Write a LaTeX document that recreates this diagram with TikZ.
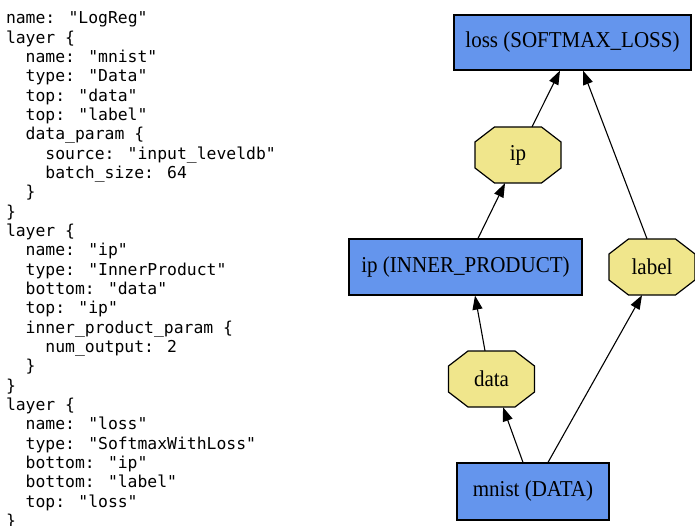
\documentclass[tikz,border=0pt]{standalone}
\usepackage{graphicx}
\usepackage{fontspec}
\setmainfont{Liberation Serif}
\newfontfamily\codefont{DejaVu Sans Mono}
\usetikzlibrary{arrows.meta,calc,backgrounds}

\definecolor{layerblue}{RGB}{100,149,237}
\definecolor{blobkhaki}{RGB}{240,230,140}

% graph labels are set slightly taller than wide
\newcommand\graphlabel[1]{\scalebox{1}[1.08]{#1}}

\tikzset{
  codeline/.style={anchor=base west, inner sep=0pt, font=\codefont\fontsize{16.4}{19.33}\selectfont},
  layerbox/.style={draw=black, line width=1.2pt, fill=layerblue, inner sep=0pt,
    font=\fontsize{21}{25}\selectfont},
  blob/.style={inner sep=0pt, minimum width=86pt, minimum height=56pt,
    font=\fontsize{21}{25}\selectfont},
  octline/.style={draw=black, line width=1.2pt, fill=blobkhaki},
  flow/.style={draw=black, line width=1.1pt, -{Triangle[length=14pt,width=10pt]}}
}

\begin{document}
\begin{tikzpicture}[x=1pt, y=-1pt]
\useasboundingbox (0,0) rectangle (695,526);

% prototxt listing, one node per line
\foreach \i/\c/\t in {
  1/0/{name: "LogReg"},
  2/0/{layer \{},
  3/2/{name: "mnist"},
  4/2/{type: "Data"},
  5/2/{top: "data"},
  6/2/{top: "label"},
  7/2/{data\_param \{},
  8/4/{source: "input\_leveldb"},
  9/4/{batch\_size: 64},
  10/2/{\}},
  11/0/{\}},
  12/0/{layer \{},
  13/2/{name: "ip"},
  14/2/{type: "InnerProduct"},
  15/2/{bottom: "data"},
  16/2/{top: "ip"},
  17/2/{inner\_product\_param \{},
  18/4/{num\_output: 2},
  19/2/{\}},
  20/0/{\}},
  21/0/{layer \{},
  22/2/{name: "loss"},
  23/2/{type: "SoftmaxWithLoss"},
  24/2/{bottom: "ip"},
  25/2/{bottom: "label"},
  26/2/{top: "loss"},
  27/0/{\}}}
  \node[codeline] (l\i) at ({5.8+\c*9.87}, {24+(\i-1)*19.33}) {\t};

% layers (boxes)
\node[layerbox, minimum width=237pt, minimum height=55pt] (loss) at (572.5,42.5) {\graphlabel{loss (SOFTMAX\_LOSS)}};
\node[layerbox, minimum width=233pt, minimum height=56pt] (ipbox) at (465.5,267) {\graphlabel{ip (INNER\_PRODUCT)}};
\node[layerbox, minimum width=152pt, minimum height=57pt] (mnist) at (533,491.5) {\graphlabel{mnist (DATA)}};

% blobs (octagons)
\node[blob] (ipo) at (518,155) {\graphlabel{ip}};
\node[blob] (label) at (652,267) {\graphlabel{label}};
\node[blob] (data) at (491.5,379) {\graphlabel{data}};

\begin{scope}[on background layer]
  \foreach \n in {ipo,label,data}
    \path[octline, shift={(\n.center)}]
      (-23.5,-28) -- (23.5,-28) -- (43,-13) -- (43,13) -- (23.5,28)
      -- (-23.5,28) -- (-43,13) -- (-43,-13) -- cycle;
\end{scope}

% data flow
\draw[flow] ($(mnist.north)+(-10,0)$) -- ($(data.south)+(11.5,0)$);
\draw[flow] ($(mnist.north)+(15,0)$) -- ($(label.south)+(-10,0)$);
\draw[flow] ($(data.north)+(-6.5,0)$) -- ($(ipbox.south)+(9.5,0)$);
\draw[flow] ($(ipbox.north)+(12.5,0)$) -- ($(ipo.south)+(-13,0)$);
\draw[flow] ($(ipo.north)+(14,0)$) -- ($(loss.south)+(-12.5,0)$);
\draw[flow] ($(label.north)+(-5,0)$) -- ($(loss.south)+(10.5,0)$);
\end{tikzpicture}
\end{document}
